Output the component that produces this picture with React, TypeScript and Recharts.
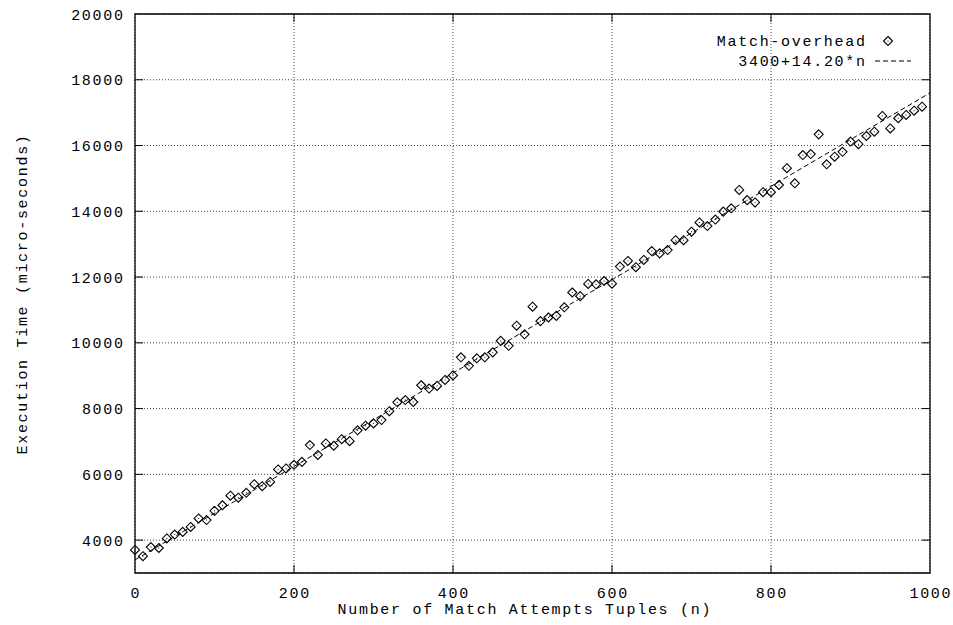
import React from 'react';
import { ComposedChart, Scatter, Line, XAxis, YAxis, CartesianGrid, ReferenceArea } from 'recharts';

// number of match attempt tuples
const N = [
  0, 10, 20, 30, 40, 50, 60, 70, 80, 90,
  100, 110, 120, 130, 140, 150, 160, 170, 180, 190,
  200, 210, 220, 230, 240, 250, 260, 270, 280, 290,
  300, 310, 320, 330, 340, 350, 360, 370, 380, 390,
  400, 410, 420, 430, 440, 450, 460, 470, 480, 490,
  500, 510, 520, 530, 540, 550, 560, 570, 580, 590,
  600, 610, 620, 630, 640, 650, 660, 670, 680, 690,
  700, 710, 720, 730, 740, 750, 760, 770, 780, 790,
  800, 810, 820, 830, 840, 850, 860, 870, 880, 890,
  900, 910, 920, 930, 940, 950, 960, 970, 980, 990,
];

// execution time (micro-seconds)
const TIMES = [
  3700, 3510, 3790, 3760, 4050, 4170, 4250, 4400, 4660, 4610,
  4890, 5060, 5350, 5290, 5440, 5700, 5640, 5770, 6150, 6180,
  6290, 6380, 6890, 6590, 6940, 6870, 7070, 7010, 7340, 7480,
  7550, 7650, 7920, 8190, 8260, 8200, 8710, 8610, 8690, 8870,
  9010, 9560, 9300, 9530, 9560, 9710, 10060, 9910, 10520, 10260,
  11100, 10660, 10770, 10820, 11080, 11530, 11420, 11790, 11780, 11880,
  11800, 12320, 12490, 12300, 12520, 12790, 12720, 12820, 13120, 13120,
  13380, 13660, 13550, 13750, 13990, 14090, 14650, 14340, 14270, 14580,
  14580, 14800, 15310, 14850, 15710, 15740, 16340, 15430, 15660, 15810,
  16120, 16040, 16290, 16420, 16900, 16520, 16830, 16930, 17060, 17180,
];

// fitted line 3400+14.20*n, end points
const FIT_N = [0, 1000];
const FIT_T = [3400, 17600];

const X_TICKS = [0, 200, 400, 600, 800, 1000];
const Y_TICKS = [4000, 6000, 8000, 10000, 12000, 14000, 16000, 18000, 20000];
const X_DOMAIN = [0, 1000];
const Y_DOMAIN = [3000, 20000];

const SERIES_NAME = 'Match-overhead';
const FIT_NAME = '3400+14.20*n';
const X_TITLE = 'Number of Match Attempts Tuples (n)';
const Y_TITLE = 'Execution Time (micro-seconds)';

const W = 953;
const H = 625;
const PLOT = { left: 135, right: 930, top: 14, bottom: 573 };
const FONT = "'Liberation Mono', 'DejaVu Sans Mono', monospace";
const FS = 15;
const LS = 1.7;
const TICK = 8;

const points = N.map((n, i) => ({ n, t: TIMES[i] }));
const fitData = FIT_N.map((n, i) => ({ n, fit: FIT_T[i] }));

const textStyle = { fontFamily: FONT, fontSize: FS, letterSpacing: LS, fill: '#000' };

function XTick(props: any) {
  const { x, payload } = props;
  const v = payload.value;
  const inner = v !== X_DOMAIN[0] && v !== X_DOMAIN[1];
  return (
    <g>
      {inner && <line x1={x} x2={x} y1={PLOT.bottom} y2={PLOT.bottom - TICK} stroke="#000" />}
      {inner && <line x1={x} x2={x} y1={PLOT.top} y2={PLOT.top + TICK} stroke="#000" />}
      <text x={x + LS / 2} y={598} textAnchor="middle" style={textStyle}>{v}</text>
    </g>
  );
}

function YTick(props: any) {
  const { y, payload } = props;
  const v = payload.value;
  const inner = v !== Y_DOMAIN[1];
  return (
    <g>
      {inner && <line x1={PLOT.left} x2={PLOT.left + TICK} y1={y} y2={y} stroke="#000" />}
      {inner && <line x1={PLOT.right} x2={PLOT.right - TICK} y1={y} y2={y} stroke="#000" />}
      <text x={123 + LS} y={y + 5.5} textAnchor="end" style={textStyle}>{v}</text>
    </g>
  );
}

function Diamond({ cx, cy }: any) {
  const r = 4.5;
  return (
    <g>
      <path
        d={`M${cx},${cy - r}L${cx + r},${cy}L${cx},${cy + r}L${cx - r},${cy}Z`}
        fill="none"
        stroke="#000"
        strokeWidth={1.1}
      />
      <rect x={cx - 0.5} y={cy - 0.5} width={1} height={1} fill="#000" />
    </g>
  );
}

export default function App() {
  return (
    <div style={{ position: 'absolute', left: 0, top: 0, width: W, height: H, background: '#fff' }}>
      <ComposedChart
        width={W}
        height={H}
        data={points}
        margin={{ top: PLOT.top, right: W - PLOT.right, bottom: 0, left: 0 }}
      >
        <CartesianGrid stroke="#444" strokeDasharray="1 2" />
        <XAxis
          dataKey="n"
          type="number"
          domain={X_DOMAIN}
          ticks={X_TICKS}
          interval={0}
          height={H - PLOT.bottom}
          tick={<XTick />}
          tickLine={false}
          axisLine={false}
        />
        <YAxis
          type="number"
          domain={Y_DOMAIN}
          ticks={Y_TICKS}
          interval={0}
          width={PLOT.left}
          tick={<YTick />}
          tickLine={false}
          axisLine={false}
        />
        <Line
          data={fitData}
          dataKey="fit"
          stroke="#000"
          strokeWidth={1}
          strokeDasharray="5 3"
          dot={false}
          isAnimationActive={false}
        />
        <Scatter dataKey="t" shape={<Diamond />} isAnimationActive={false} />
        <ReferenceArea
          x1={X_DOMAIN[0]}
          x2={X_DOMAIN[1]}
          y1={Y_DOMAIN[0]}
          y2={Y_DOMAIN[1]}
          fill="none"
          stroke="#000"
          strokeWidth={1.3}
        />
      </ComposedChart>
      <svg
        width={W}
        height={H}
        style={{ position: 'absolute', left: 0, top: 0, pointerEvents: 'none' }}
      >
        <text x={524 + LS / 2} y={614} textAnchor="middle" style={textStyle}>{X_TITLE}</text>
        <text
          x={27}
          y={294}
          textAnchor="middle"
          transform="rotate(-90 27 294)"
          style={textStyle}
        >
          {Y_TITLE}
        </text>
        <text x={865 + LS} y={46} textAnchor="end" style={textStyle}>{SERIES_NAME}</text>
        <Diamond cx={888} cy={41} />
        <text x={865 + LS} y={66} textAnchor="end" style={textStyle}>{FIT_NAME}</text>
        <line x1={875} x2={911} y1={61} y2={61} stroke="#000" strokeDasharray="5 3" />
      </svg>
    </div>
  );
}
